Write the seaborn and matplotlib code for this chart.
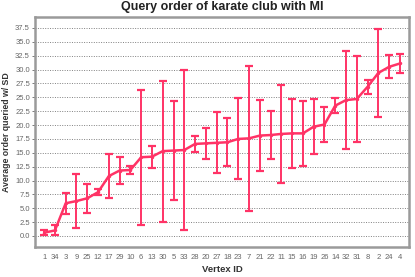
import matplotlib
matplotlib.use("Agg")
import matplotlib.pyplot as plt
import numpy as np
import pandas as pd
import seaborn as sns

# vertex order along the x axis
vertex_ids = ["1", "34", "3", "9", "25", "12", "17", "29", "10", "6",
              "13", "30", "5", "33", "28", "20", "27", "18", "23", "7",
              "21", "22", "11", "15", "16", "19", "26", "14", "32", "31",
              "8", "2", "24", "4"]

# average query order
mean_order = [0.6, 1.0, 5.9, 6.3, 6.8, 7.9, 10.8, 11.8, 11.9, 14.2,
              14.3, 15.3, 15.4, 15.5, 16.6, 16.7, 16.8, 16.9, 17.5, 17.6,
              18.1, 18.2, 18.4, 18.5, 18.5, 19.7, 20.1, 23.5, 24.5, 24.7,
              26.9, 29.4, 30.5, 31.1]

# standard deviation
sd_order = [0.5, 0.9, 1.9, 4.9, 2.6, 0.6, 3.9, 2.4, 0.8, 12.2,
            2.0, 12.7, 8.9, 14.4, 1.5, 2.8, 5.5, 4.3, 7.3, 13.1,
            6.4, 4.4, 8.9, 6.2, 5.9, 5.0, 3.2, 1.3, 8.9, 7.7,
            1.3, 8.0, 2.1, 1.8]

df = pd.DataFrame({"vertex": vertex_ids, "mean": mean_order, "sd": sd_order})
df["pos"] = np.arange(len(df))

sns.set_style("white")
plt.rcParams["font.family"] = ["Liberation Sans", "DejaVu Sans"]

red = "#ff3366"
fig = plt.figure(figsize=(4.15, 2.77), dpi=100)
ax = fig.add_axes([0.084, 0.108, 0.902, 0.831])

ax.errorbar(df["pos"], df["mean"], yerr=df["sd"], fmt="none", ecolor=red,
            elinewidth=1.4, capsize=2.8, capthick=1.6, zorder=3)
sns.lineplot(data=df, x="pos", y="mean", color=red, linewidth=1.8,
             marker="o", markersize=2.5, markeredgewidth=0, ax=ax, zorder=4)

ax.set_xlim(-0.86, 33.86)
ax.set_ylim(-2.0, 39.5)
ax.set_yticks(np.arange(0, 37.6, 2.5))
ax.set_yticklabels([f"{v:.1f}" for v in np.arange(0, 37.6, 2.5)])
ax.set_xticks(df["pos"])
ax.set_xticklabels(df["vertex"])
ax.tick_params(axis="y", labelsize=5.5, labelcolor="#666666", length=2,
               width=0.6, color="#666666", pad=1.5, left=True)
ax.tick_params(axis="x", labelsize=5.5, labelcolor="#666666", length=0, pad=5)
ax.yaxis.grid(True, linestyle=(0, (1, 1.5)), color="#808080", linewidth=0.7)
ax.set_axisbelow(True)

for s in ax.spines.values():
    s.set_color("#9a9a9a")
    s.set_linewidth(1.8)

ax.set_title("Query order of karate club with MI", fontsize=9,
             fontweight="bold", color="#222222", pad=5)
ax.set_xlabel("Vertex ID", fontsize=6.8, fontweight="bold", color="#333333", labelpad=3)
ax.set_ylabel("Average order queried w/ SD", fontsize=6.3, fontweight="bold",
              color="#333333", labelpad=3)

fig.savefig("out.png", dpi=100)
